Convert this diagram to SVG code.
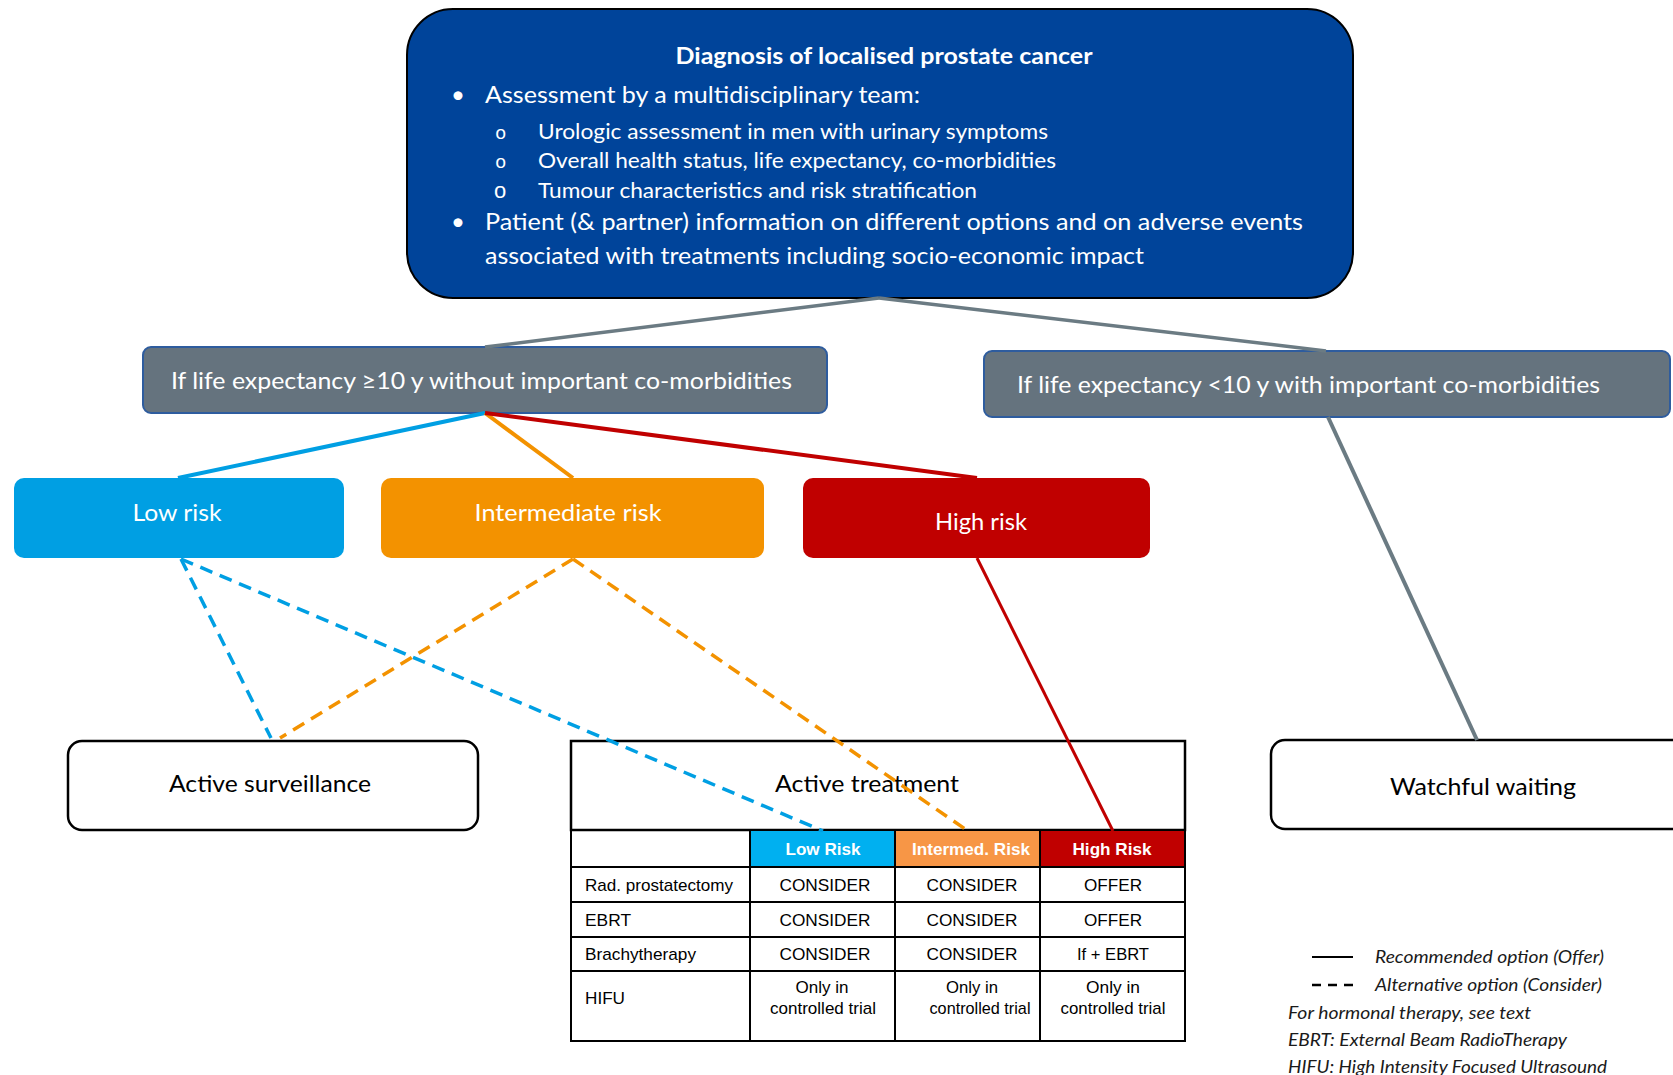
<svg xmlns="http://www.w3.org/2000/svg" width="1673" height="1075" viewBox="0 0 1673 1075">
<style>
.cal{font-family:Lato,"Open Sans","DejaVu Sans",sans-serif}
.w{fill:#ffffff}
.k{fill:#000000}
.ar{font-family:"Liberation Sans",Arial,sans-serif;font-size:17px;fill:#000}
.arb{font-family:"Liberation Sans",Arial,sans-serif;font-size:17px;font-weight:bold;fill:#fff}
.leg{font-family:Lato,"Open Sans",sans-serif;font-style:italic;font-size:17px;fill:#1a1a1a}
.grey{fill:#65737e;stroke:#2e5c9e;stroke-width:2}
.risk{stroke:none}
.out{fill:#fff;stroke:#000;stroke-width:2.5}
.tl{stroke:#000;stroke-width:2;fill:none}
.c{fill:none;stroke-linecap:butt}
.dash{stroke-dasharray:13 8}
</style>

<g id="diagnosis">
<rect x="407" y="9" width="946" height="289" rx="46" ry="46" fill="#00449a" stroke="#000" stroke-width="2"/>
<text class="cal w" x="884" y="64" font-size="23" font-weight="bold" text-anchor="middle" textLength="417" lengthAdjust="spacingAndGlyphs">Diagnosis of localised prostate cancer</text>
<text class="cal w" x="451" y="103" font-size="24">•</text>
<text class="cal w" x="485" y="103" font-size="24" textLength="435" lengthAdjust="spacingAndGlyphs">Assessment by a multidisciplinary team:</text>
<text x="495" y="139" font-family="'Liberation Mono',monospace" font-size="19" class="w">o</text>
<text class="cal w" x="538" y="139" font-size="21" textLength="510" lengthAdjust="spacingAndGlyphs">Urologic assessment in men with urinary symptoms</text>
<text x="495" y="168" font-family="'Liberation Mono',monospace" font-size="19" class="w">o</text>
<text class="cal w" x="538" y="168" font-size="21" textLength="518" lengthAdjust="spacingAndGlyphs">Overall health status, life expectancy, co-morbidities</text>
<text x="494" y="198" font-family="'Liberation Sans',sans-serif" font-size="22" class="w">o</text>
<text class="cal w" x="538" y="198" font-size="21" textLength="439" lengthAdjust="spacingAndGlyphs">Tumour characteristics and risk stratification</text>
<text class="cal w" x="451" y="230" font-size="24">•</text>
<text class="cal w" x="485" y="230" font-size="24" textLength="818" lengthAdjust="spacingAndGlyphs">Patient (&amp; partner) information on different options and on adverse events</text>
<text class="cal w" x="485" y="264" font-size="24" textLength="659" lengthAdjust="spacingAndGlyphs">associated with treatments including socio-economic impact</text>
</g>

<g id="le-ge-10">
<rect class="grey" x="143" y="347" width="684" height="66" rx="8"/>
<text class="cal w" x="171" y="389" font-size="24" textLength="621" lengthAdjust="spacingAndGlyphs">If life expectancy ≥10 y without important co-morbidities</text>
</g>

<g id="le-lt-10">
<rect class="grey" x="984" y="351" width="686" height="66" rx="8"/>
<text class="cal w" x="1017" y="393" font-size="24" textLength="583" lengthAdjust="spacingAndGlyphs">If life expectancy &lt;10 y with important co-morbidities</text>
</g>

<g id="low-risk">
<rect class="risk" x="14" y="478" width="330" height="80" rx="10" fill="#009fe3"/>
<text class="cal w" x="177" y="521" font-size="24" text-anchor="middle" textLength="89" lengthAdjust="spacingAndGlyphs">Low risk</text>
</g>

<g id="intermediate-risk">
<rect class="risk" x="381" y="478" width="383" height="80" rx="10" fill="#f39200"/>
<text class="cal w" x="568" y="521" font-size="24" text-anchor="middle" textLength="187" lengthAdjust="spacingAndGlyphs">Intermediate risk</text>
</g>

<g id="high-risk">
<rect class="risk" x="803" y="478" width="347" height="80" rx="10" fill="#c00000"/>
<text class="cal w" x="981" y="530" font-size="24" text-anchor="middle" textLength="92" lengthAdjust="spacingAndGlyphs">High risk</text>
</g>

<g id="active-surveillance">
<rect class="out" x="68" y="741" width="410" height="89" rx="14"/>
<text class="cal k" x="270" y="792" font-size="24" text-anchor="middle" textLength="202" lengthAdjust="spacingAndGlyphs">Active surveillance</text>
</g>

<g id="watchful-waiting">
<rect class="out" x="1271" y="740" width="430" height="89" rx="14"/>
<text class="cal k" x="1483" y="795" font-size="24" text-anchor="middle" textLength="186" lengthAdjust="spacingAndGlyphs">Watchful waiting</text>
</g>

<g id="active-treatment">
<rect class="out" x="571" y="741" width="614" height="89"/>
<text class="cal k" x="867" y="792" font-size="24" text-anchor="middle" textLength="184" lengthAdjust="spacingAndGlyphs">Active treatment</text>
<rect x="750" y="830" width="145" height="36" fill="#00b0f0"/>
<rect x="895" y="830" width="145" height="36" fill="#f79646"/>
<rect x="1040" y="830" width="145" height="36" fill="#c00000"/>
<g class="tl">
<rect x="571" y="830" width="614" height="211"/>
<line x1="571" y1="867" x2="1185" y2="867"/>
<line x1="571" y1="902" x2="1185" y2="902"/>
<line x1="571" y1="937" x2="1185" y2="937"/>
<line x1="571" y1="971" x2="1185" y2="971"/>
<line x1="750" y1="830" x2="750" y2="1041"/>
<line x1="895" y1="830" x2="895" y2="1041"/>
<line x1="1040" y1="830" x2="1040" y2="1041"/>
</g>
<text class="arb" x="823" y="855" text-anchor="middle" textLength="75" lengthAdjust="spacingAndGlyphs">Low Risk</text>
<text class="arb" x="971" y="855" text-anchor="middle" textLength="118" lengthAdjust="spacingAndGlyphs">Intermed. Risk</text>
<text class="arb" x="1112" y="855" text-anchor="middle" textLength="79" lengthAdjust="spacingAndGlyphs">High Risk</text>
<text class="ar" x="585" y="891" textLength="148" lengthAdjust="spacingAndGlyphs">Rad. prostatectomy</text>
<text class="ar" x="825" y="891" text-anchor="middle" textLength="91" lengthAdjust="spacingAndGlyphs">CONSIDER</text>
<text class="ar" x="972" y="891" text-anchor="middle" textLength="91" lengthAdjust="spacingAndGlyphs">CONSIDER</text>
<text class="ar" x="1113" y="891" text-anchor="middle" textLength="58" lengthAdjust="spacingAndGlyphs">OFFER</text>
<text class="ar" x="585" y="926" textLength="46" lengthAdjust="spacingAndGlyphs">EBRT</text>
<text class="ar" x="825" y="926" text-anchor="middle" textLength="91" lengthAdjust="spacingAndGlyphs">CONSIDER</text>
<text class="ar" x="972" y="926" text-anchor="middle" textLength="91" lengthAdjust="spacingAndGlyphs">CONSIDER</text>
<text class="ar" x="1113" y="926" text-anchor="middle" textLength="58" lengthAdjust="spacingAndGlyphs">OFFER</text>
<text class="ar" x="585" y="960" textLength="111" lengthAdjust="spacingAndGlyphs">Brachytherapy</text>
<text class="ar" x="825" y="960" text-anchor="middle" textLength="91" lengthAdjust="spacingAndGlyphs">CONSIDER</text>
<text class="ar" x="972" y="960" text-anchor="middle" textLength="91" lengthAdjust="spacingAndGlyphs">CONSIDER</text>
<text class="ar" x="1113" y="960" text-anchor="middle" textLength="72" lengthAdjust="spacingAndGlyphs">If + EBRT</text>
<text class="ar" x="585" y="1004" textLength="40" lengthAdjust="spacingAndGlyphs">HIFU</text>
<text class="ar" x="822" y="993" text-anchor="middle" textLength="53" lengthAdjust="spacingAndGlyphs">Only in</text>
<text class="ar" x="823" y="1014" text-anchor="middle" textLength="106" lengthAdjust="spacingAndGlyphs">controlled trial</text>
<text class="ar" x="972" y="993" text-anchor="middle" textLength="52" lengthAdjust="spacingAndGlyphs">Only in</text>
<text class="ar" x="980" y="1014" text-anchor="middle" textLength="101" lengthAdjust="spacingAndGlyphs">controlled trial</text>
<text class="ar" x="1113" y="993" text-anchor="middle" textLength="54" lengthAdjust="spacingAndGlyphs">Only in</text>
<text class="ar" x="1113" y="1014" text-anchor="middle" textLength="105" lengthAdjust="spacingAndGlyphs">controlled trial</text>
</g>

<g id="connectors">
<line class="c" x1="879" y1="298" x2="485" y2="347" stroke="#6b7b83" stroke-width="3.5"/>
<line class="c" x1="879" y1="298" x2="1326" y2="351" stroke="#6b7b83" stroke-width="3.5"/>
<line class="c" x1="485" y1="413" x2="178" y2="478" stroke="#009fe3" stroke-width="4"/>
<line class="c" x1="485" y1="413" x2="573" y2="478" stroke="#f39200" stroke-width="4"/>
<line class="c" x1="485" y1="413" x2="977" y2="478" stroke="#c00000" stroke-width="4"/>
<line class="c" x1="1328" y1="417" x2="1477" y2="740" stroke="#6b7b83" stroke-width="4"/>
<line class="c" x1="977" y1="558" x2="1113" y2="831" stroke="#c00000" stroke-width="3"/>
<line class="c dash" x1="181" y1="559" x2="271" y2="738" stroke="#009fe3" stroke-width="3.5"/>
<line class="c dash" x1="181" y1="559" x2="823" y2="831" stroke="#009fe3" stroke-width="3.5"/>
<line class="c dash" x1="573" y1="559" x2="280" y2="738" stroke="#f39200" stroke-width="3.5"/>
<line class="c dash" x1="573" y1="559" x2="968" y2="831" stroke="#f39200" stroke-width="3.5"/>
</g>

<g id="legend">
<line x1="1312" y1="957" x2="1353" y2="957" stroke="#000" stroke-width="2"/>
<line x1="1312" y1="985" x2="1356" y2="985" stroke="#000" stroke-width="2.5" stroke-dasharray="9 7"/>
<text class="leg" x="1375" y="963" textLength="229" lengthAdjust="spacingAndGlyphs">Recommended option (Offer)</text>
<text class="leg" x="1375" y="991" textLength="227" lengthAdjust="spacingAndGlyphs">Alternative option (Consider)</text>
<text class="leg" x="1288" y="1019" textLength="243" lengthAdjust="spacingAndGlyphs">For hormonal therapy, see text</text>
<text class="leg" x="1288" y="1046" textLength="279" lengthAdjust="spacingAndGlyphs">EBRT: External Beam RadioTherapy</text>
<text class="leg" x="1288" y="1073" textLength="319" lengthAdjust="spacingAndGlyphs">HIFU: High Intensity Focused Ultrasound</text>
</g>
</svg>
